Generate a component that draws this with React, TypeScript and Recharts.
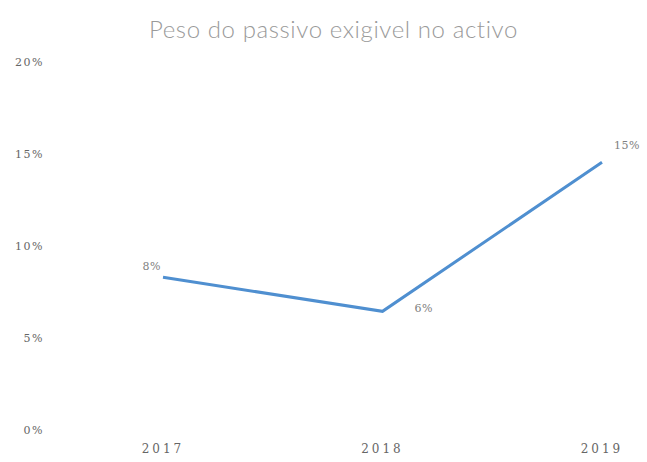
import React from 'react';
import { LineChart, Line, XAxis, YAxis, LabelList } from 'recharts';

const years = ['2017', '2018', '2019'];
const peso = [8.3, 6.45, 14.55];
const labels = ['8%', '6%', '15%'];
const yTicks = [0, 5, 10, 15, 20];

const data = years.map((year, i) => ({ year, peso: peso[i], label: labels[i] }));

// label offsets relative to each point, as in the source
const labelOffset = [
  { dx: -2, dy: -10, anchor: 'end' },
  { dx: 32, dy: -2, anchor: 'start' },
  { dx: 12, dy: -16, anchor: 'start' },
];

const PointLabel = (props: any) => {
  const { x, y, value, index } = props;
  const o = labelOffset[index] || { dx: 0, dy: -10, anchor: 'middle' };
  return (
    <text
      x={x + o.dx}
      y={y + o.dy}
      textAnchor={o.anchor}
      fontFamily="'DejaVu Serif', serif"
      fontSize={11}
      fill="#808080"
      letterSpacing={0.5}
      dominantBaseline="middle"
    >
      {value}
    </text>
  );
};

const App: React.FC = () => {
  return (
    <div style={{ position: 'absolute', left: 0, top: 0, width: 647, height: 462, background: '#fff' }}>
      <div
        style={{
          position: 'absolute',
          top: 14,
          left: 0,
          width: 667,
          textAlign: 'center',
          fontFamily: 'Lato, sans-serif',
          fontSize: 24,
          fontWeight: 300,
          color: '#9a9a9a',
          letterSpacing: 0.6,
        }}
      >
        Peso do passivo exigivel no activo
      </div>
      <LineChart width={647} height={462} data={data} margin={{ top: 62, right: 0, bottom: 0, left: 0 }}>
        <XAxis
          dataKey="year"
          axisLine={false}
          tickLine={false}
          tickSize={0}
          tickMargin={14}
          height={32}
          padding={{ left: 113, right: 45 }}
          tick={{ fontFamily: "'DejaVu Serif', serif", fontSize: 12, fill: '#666', letterSpacing: 3 }}
        />
        <YAxis
          type="number"
          domain={[0, 20]}
          ticks={yTicks}
          width={50}
          axisLine={false}
          tickLine={false}
          tickSize={0}
          tickMargin={6}
          tickFormatter={(v: number) => `${v}%`}
          tick={{ fontFamily: "'DejaVu Serif', serif", fontSize: 11, fill: '#666', letterSpacing: 1.5 }}
        />
        <Line
          type="linear"
          dataKey="peso"
          stroke="#4f8fd0"
          strokeWidth={3}
          dot={false}
          isAnimationActive={false}
        >
          <LabelList dataKey="label" content={PointLabel} />
        </Line>
      </LineChart>
    </div>
  );
};

export default App;
